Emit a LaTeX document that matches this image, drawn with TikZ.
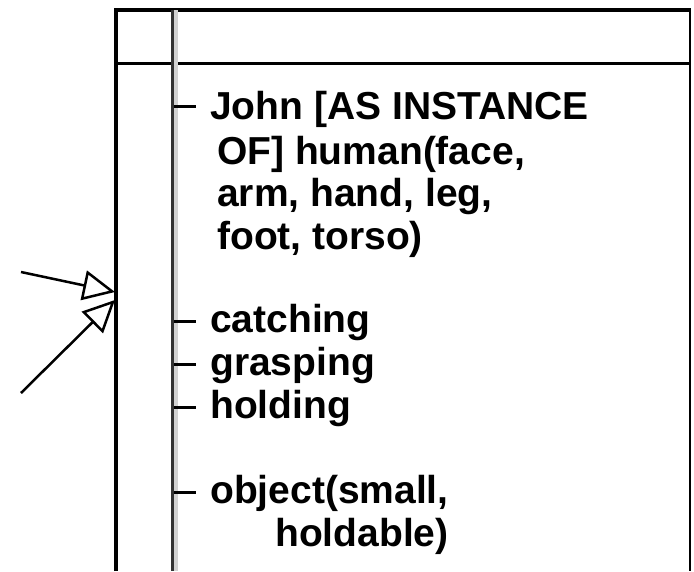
\documentclass[tikz,border=0pt]{standalone}
\usepackage{fontspec}
\setmainfont{Liberation Sans}
\usetikzlibrary{arrows.meta}
\begin{document}
\begin{tikzpicture}[x=1pt,y=-1pt,
  txt/.style={anchor=base west, inner sep=0pt, font=\fontsize{39}{44}\selectfont\bfseries},
  tickline/.style={line width=3pt},
  arr/.style={line width=2.5pt, -{Triangle[open, length=32pt, width=30pt, line width=2.5pt]}}]
\useasboundingbox (0,0) rectangle (694,571);
\fill[white] (0,0) rectangle (694,571);
% frame
\draw[line width=4.5pt] (116,571) -- (116,10) -- (691,10);
\draw[line width=2pt] (690,9) -- (690,571);
\draw[line width=3pt] (116,63) -- (690,63);
\draw[line width=4pt, gray!35] (176,10) -- (176,571);
\draw[line width=3pt, black!80] (172.5,10) -- (172.5,571);
% texts
\node[txt] (l1) at (210,119) {John [AS INSTANCE};
\node[txt] (l2) at (217,164) {OF] human(face,};
\node[txt] (l3) at (217,206) {arm, hand, leg,};
\node[txt] (l4) at (217,249) {foot, torso)};
\node[txt] (c1) at (210,332) {catching};
\node[txt] (c2) at (210,375) {grasping};
\node[txt] (c3) at (210,418) {holding};
\node[txt] (o1) at (210,503) {object(small,};
\node[txt] (o2) at (275,546) {holdable)};
% ticks
\draw[tickline] (174,106) -- ++(22,0);
\draw[tickline] (174,321) -- ++(22,0);
\draw[tickline] (174,364) -- ++(22,0);
\draw[tickline] (174,407) -- ++(22,0);
\draw[tickline] (174,492) -- ++(22,0);
% arrows
\coordinate (s1) at (21,272);
\coordinate (t1) at (115,292);
\coordinate (s2) at (21,393);
\coordinate (t2) at (115,300);
\draw[arr] (s1) -- (t1);
\draw[arr] (s2) -- (t2);
\end{tikzpicture}
\end{document}
